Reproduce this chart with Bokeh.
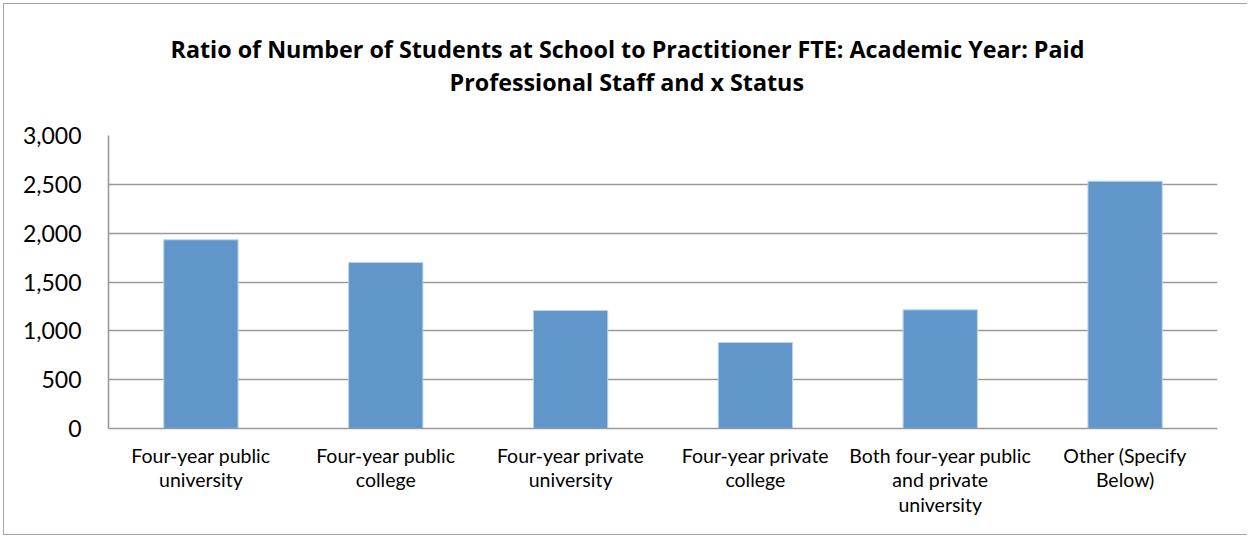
from bokeh.plotting import figure
from bokeh.models import FactorRange, Range1d, NumeralTickFormatter, Title, FixedTicker
from bokeh.embed import file_html
from bokeh.resources import INLINE

categories = [
    "Four-year public\nuniversity",
    "Four-year public\ncollege",
    "Four-year private\nuniversity",
    "Four-year private\ncollege",
    "Both four-year public\nand private\nuniversity",
    "Other (Specify\nBelow)",
]
values = [1932, 1700, 1208, 880, 1215, 2532]
y_ticks = [0, 500, 1000, 1500, 2000, 2500, 3000]
title_line1 = "Ratio of Number of Students at School to Practitioner FTE: Academic Year: Paid"
title_line2 = "Professional Staff and x Status"

FONT = "Lato"
TFONT = "Open Sans"

p = figure(
    x_range=FactorRange(*categories, range_padding=0),
    y_range=Range1d(0, 3000),
    width=1244, height=532,
    output_backend="svg", toolbar_location=None,
    min_border_left=104, min_border_right=31, min_border_top=131, min_border_bottom=108,
)
p.styles = {"margin-left": "3px", "margin-top": "3px",
            "border-left": "1px solid #a6a6a6", "border-top": "1px solid #a6a6a6",
            "border-bottom": "1px solid #a6a6a6"}

p.vbar(x=categories, top=values, width=0.402, fill_color="#6096C9",
       line_color="#BDD3EA", line_width=1)

spacer = Title(text=" ", text_font_size="10px", standoff=25)
t2 = Title(text=title_line2, align="left", text_font=TFONT, text_font_size="23.3px",
           text_font_style="bold", text_color="#000000", standoff=0, offset=341)
t1 = Title(text=title_line1, align="left", text_font=TFONT, text_font_size="23.3px",
           text_font_style="bold", text_color="#000000", standoff=-3, offset=62)
p.add_layout(spacer, "above")
p.add_layout(t2, "above")
p.add_layout(t1, "above")

p.outline_line_color = None
p.background_fill_color = "white"
p.border_fill_color = "white"

p.xgrid.grid_line_color = None
p.ygrid.grid_line_color = "#9a9a9a"
p.ygrid.grid_line_width = 1.6
p.ygrid.ticker = FixedTicker(ticks=y_ticks)

p.yaxis.ticker = FixedTicker(ticks=y_ticks)
p.yaxis.formatter = NumeralTickFormatter(format="0,0")
p.yaxis.axis_line_color = "#9a9a9a"
p.yaxis.axis_line_width = 1.6
p.yaxis.major_tick_line_color = None
p.yaxis.minor_tick_line_color = None
p.yaxis.major_label_text_font = FONT
p.yaxis.major_label_text_font_size = "23px"
p.yaxis.major_label_text_color = "#000000"
p.yaxis.major_label_standoff = 21

p.xaxis.axis_line_color = "#9a9a9a"
p.xaxis.axis_line_width = 1.6
p.xaxis.major_tick_line_color = None
p.xaxis.minor_tick_line_color = None
p.xaxis.major_label_text_font = FONT
p.xaxis.major_label_text_font_size = "19.5px"
p.xaxis.major_label_text_color = "#000000"
p.xaxis.major_label_text_line_height = 1.08
p.xaxis.major_label_standoff = 9
p.xaxis.major_label_orientation = "horizontal"

open("out.html", "w").write(file_html(p, INLINE))
